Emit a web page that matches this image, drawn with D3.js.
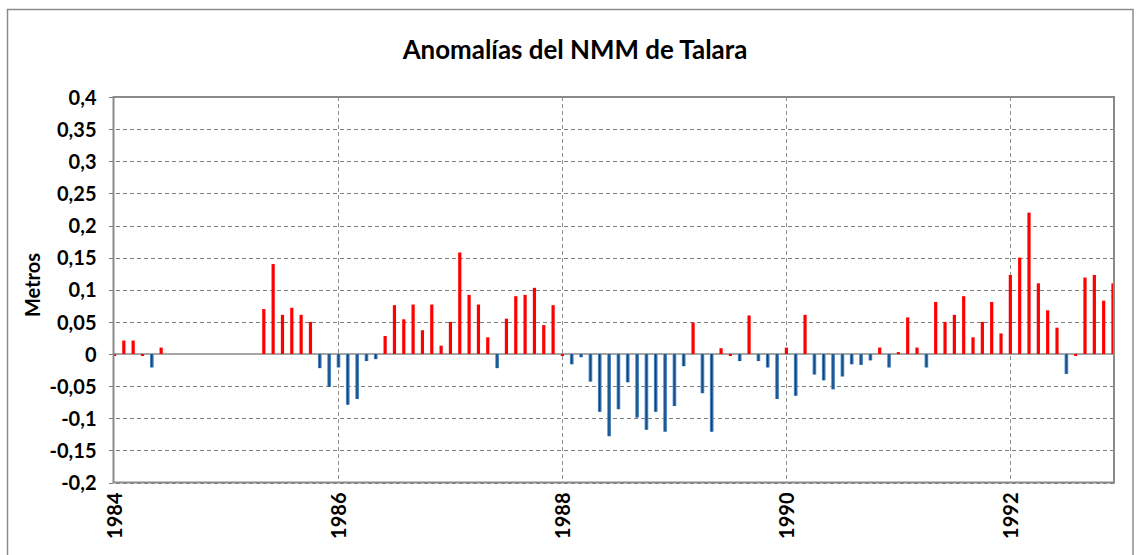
<!DOCTYPE html>
<html>
<head>
<meta charset="utf-8">
<script src="https://cdn.jsdelivr.net/npm/d3@7/dist/d3.min.js"></script>
<style>
  html, body { margin: 0; padding: 0; background: #fff; }
  svg { display: block; }
  text { font-family: Lato, "Noto Sans", sans-serif; font-weight: 700; fill: #000; }
</style>
</head>
<body>
<svg id="chart" width="1139" height="555"></svg>
<script>
// ---- data ----
const title = "Anomalías del NMM de Talara";
const yTitle = "Metros";
const startYear = 1984;
const monthCount = 108; // Jan 1984 .. Dec 1992
// monthly anomalies (m), null = no data
const values1984 = [-0.002, 0.021, 0.021, -0.002, -0.021, 0.010, null, null, null, null, null, null];
const values1985 = [null, null, null, null, 0.070, 0.140, 0.061, 0.072, 0.061, 0.050, -0.022, -0.051];
const values1986 = [-0.021, -0.079, -0.070, -0.011, -0.008, 0.028, 0.076, 0.054, 0.077, 0.037, 0.077, 0.013];
const values1987 = [0.050, 0.158, 0.092, 0.077, 0.026, -0.022, 0.055, 0.090, 0.092, 0.103, 0.045, 0.076];
const values1988 = [-0.002, -0.016, -0.005, -0.043, -0.090, -0.128, -0.086, -0.044, -0.099, -0.118, -0.090, -0.121];
const values1989 = [-0.081, -0.019, 0.049, -0.061, -0.121, 0.009, -0.003, -0.011, 0.060, -0.011, -0.021, -0.070];
const values1990 = [0.010, -0.065, 0.061, -0.032, -0.041, -0.055, -0.035, -0.016, -0.017, -0.010, 0.010, -0.021];
const values1991 = [0.003, 0.057, 0.010, -0.021, 0.081, 0.050, 0.061, 0.090, 0.026, 0.050, 0.081, 0.032];
const values1992 = [0.123, 0.150, 0.220, 0.110, 0.068, 0.041, -0.031, -0.002, 0.119, 0.123, 0.083, 0.110];
const yTicks = [-0.2, -0.15, -0.1, -0.05, 0, 0.05, 0.1, 0.15, 0.2, 0.25, 0.3, 0.35, 0.4];
const xTickYears = [1984, 1986, 1988, 1990, 1992];

const values = [].concat(values1984, values1985, values1986, values1987, values1988,
                         values1989, values1990, values1991, values1992);
const data = values.map((v, i) => ({ i, v })).filter(d => d.v !== null);

// ---- layout ----
const svg = d3.select("#chart");
const plot = { left: 113.5, right: 1114, top: 97, bottom: 482.5 };

const x = d3.scaleLinear().domain([0, monthCount - 1]).range([114.5, 1113]);
const y = d3.scaleLinear().domain([-0.2, 0.4]).range([plot.bottom, plot.top]);

// outer chart border
svg.append("rect")
  .attr("x", 7.5).attr("y", 9.5)
  .attr("width", 1133 - 7.5).attr("height", 600)
  .attr("fill", "none").attr("stroke", "#8c8c8c").attr("stroke-width", 1.5);

// gradient for negative bars
const defs = svg.append("defs");
const grad = defs.append("linearGradient").attr("id", "blueGrad")
  .attr("x1", "0%").attr("x2", "100%").attr("y1", "0%").attr("y2", "0%");
grad.append("stop").attr("offset", "0%").attr("stop-color", "#6fa8dc");
grad.append("stop").attr("offset", "45%").attr("stop-color", "#0b3f78");
grad.append("stop").attr("offset", "100%").attr("stop-color", "#5b9bd5");
defs.append("clipPath").attr("id", "plotClip").append("rect")
  .attr("x", plot.left).attr("y", plot.top)
  .attr("width", plot.right - plot.left).attr("height", plot.bottom - plot.top);

// horizontal gridlines with outside ticks (axis)
const fmt = v => String(+v.toFixed(2)).replace(".", ",");
const yAxis = d3.axisLeft(y)
  .tickValues(yTicks)
  .tickFormat(fmt)
  .tickSize(plot.right - plot.left + 6)
  .tickPadding(0);
const gy = svg.append("g").attr("transform", `translate(${plot.right},0)`);
gy.call(yAxis);
gy.select(".domain").remove();
gy.selectAll(".tick line")
  .attr("stroke", "#7f7f7f").attr("stroke-width", 1)
  .attr("stroke-dasharray", "4,3")
  .attr("shape-rendering", "crispEdges");
gy.selectAll(".tick text")
  .attr("x", -(plot.right - plot.left) - 17)
  .attr("dy", "0.36em")
  .style("font-size", "20px")
  .attr("text-anchor", "end");

// vertical gridlines
const xTickVals = xTickYears.map(yr => (yr - startYear) * 12);
const xAxis = d3.axisBottom(x)
  .tickValues(xTickVals)
  .tickFormat(i => String(startYear + i / 12))
  .tickSize(0);
const gx = svg.append("g").attr("transform", `translate(0,${plot.bottom})`);
gx.call(xAxis);
gx.select(".domain").remove();
gx.selectAll(".tick text")
  .attr("transform", "rotate(-90)")
  .attr("x", -10).attr("y", 0).attr("dy", "0.36em")
  .attr("text-anchor", "end")
  .style("font-size", "20px");
svg.append("g").selectAll("line")
  .data(xTickVals.filter(v => v > 0))
  .join("line")
  .attr("x1", d => Math.round(x(d)) + 0.5).attr("x2", d => Math.round(x(d)) + 0.5)
  .attr("y1", plot.top).attr("y2", plot.bottom)
  .attr("stroke", "#8f8f8f").attr("stroke-width", 1)
  .attr("stroke-dasharray", "4,3");

// zero line
svg.append("line")
  .attr("x1", plot.left).attr("x2", plot.right)
  .attr("y1", y(0)).attr("y2", y(0))
  .attr("stroke", "#a6a6a6").attr("stroke-width", 1.8);

// bars
const isPos = v => v > -0.0045;
svg.append("g").attr("clip-path", "url(#plotClip)")
  .selectAll("rect")
  .data(data)
  .join("rect")
  .attr("x", d => x(d.i) - (isPos(d.v) ? 1.6 : 1.9))
  .attr("width", d => isPos(d.v) ? 3.2 : 3.8)
  .attr("y", d => Math.min(y(0), y(d.v)))
  .attr("height", d => Math.max(2, Math.abs(y(d.v) - y(0))))
  .attr("fill", d => isPos(d.v) ? "#ff0000" : "url(#blueGrad)");

// plot border
svg.append("rect")
  .attr("x", plot.left).attr("y", plot.top)
  .attr("width", plot.right - plot.left).attr("height", plot.bottom - plot.top)
  .attr("fill", "none").attr("stroke", "#8a8a8a").attr("stroke-width", 2);

// title, fitted to reference width
const t = svg.append("text")
  .attr("x", 575).attr("y", 59)
  .attr("text-anchor", "middle")
  .style("font-size", "24px")
  .text(title);
const w = t.node().getComputedTextLength();
t.style("font-size", (24 * 345 / w).toFixed(2) + "px");

// y axis title
svg.append("text")
  .attr("transform", "translate(40,285) rotate(-90)")
  .attr("text-anchor", "middle")
  .style("font-size", "20px")
  .text(yTitle);
</script>
</body>
</html>
